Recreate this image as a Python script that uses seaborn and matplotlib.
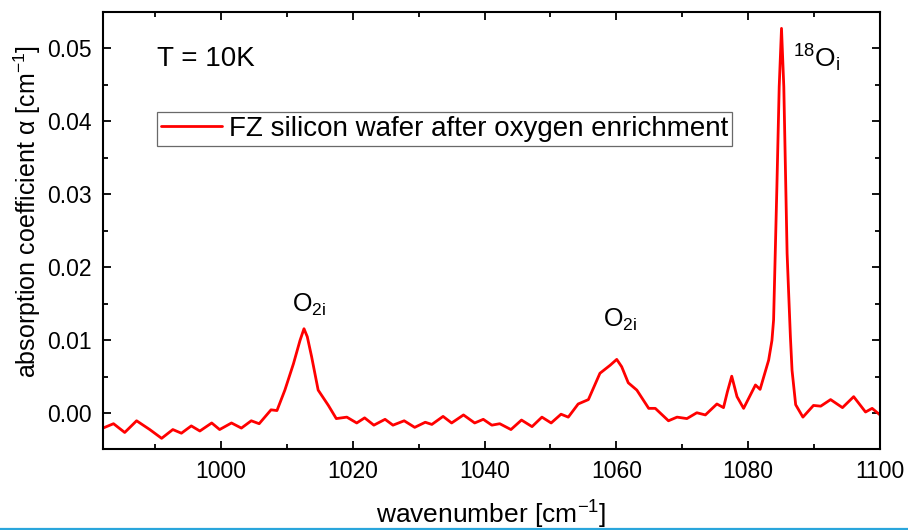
import matplotlib
matplotlib.use("Agg")
import matplotlib.pyplot as plt
from matplotlib.lines import Line2D
from matplotlib.ticker import MultipleLocator
import seaborn as sns
import pandas as pd

# Low-temperature FTIR absorption spectrum (wavenumber in cm^-1, alpha in cm^-1)
wavenumber = [
    982.1, 983.7, 985.4, 987.2, 989.2, 991.0, 992.7, 994.0, 995.5, 996.8,
    998.6, 999.8, 1001.6, 1003.1, 1004.6, 1005.8, 1007.6, 1008.5, 1009.7, 1011.0,
    1012.0, 1012.6, 1013.1, 1013.75, 1014.75, 1016.3, 1017.5, 1019.1, 1020.6, 1021.8,
    1023.2, 1024.9, 1026.1, 1027.8, 1029.4, 1031.0, 1032.0, 1033.7, 1035.0, 1036.8,
    1038.5, 1039.8, 1041.1, 1042.3, 1044.0, 1045.6, 1047.2, 1048.7, 1050.1, 1051.6,
    1052.7, 1054.2, 1055.75, 1057.5, 1059.05, 1060.05, 1060.8, 1061.8, 1063.1, 1064.9,
    1065.9, 1067.9, 1069.2, 1070.7, 1072.2, 1073.5, 1075.25, 1076.25, 1076.85, 1077.5,
    1078.3, 1079.3, 1081.1, 1081.8, 1083.1, 1083.6, 1083.85, 1084.1, 1084.35, 1084.7,
    1085.05, 1085.4, 1085.6, 1085.9, 1086.1, 1086.4, 1086.65, 1087.2, 1088.3, 1089.9,
    1091.0, 1092.5, 1094.3, 1096.0, 1097.8, 1098.8, 1100.0,
]
alpha = [
    -0.0020, -0.0014, -0.0026, -0.0010, -0.0022, -0.0034, -0.0022, -0.0027, -0.0017, -0.0024,
    -0.0013, -0.0022, -0.0013, -0.0020, -0.0010, -0.0014, 0.0005, 0.0004, 0.0032, 0.0068,
    0.0100, 0.0116, 0.0105, 0.0078, 0.0032, 0.0011, -0.0007, -0.0005, -0.0013, -0.0006,
    -0.0016, -0.0008, -0.0016, -0.0010, -0.0019, -0.0012, -0.0015, -0.0004, -0.0013, -0.0002,
    -0.0013, -0.0008, -0.0016, -0.0014, -0.0022, -0.0009, -0.0018, -0.0005, -0.0013, -0.0001,
    -0.0005, 0.0013, 0.0019, 0.0055, 0.0066, 0.0074, 0.0064, 0.0042, 0.0032, 0.0007,
    0.0007, -0.0010, -0.0005, -0.0007, 0.0001, -0.0002, 0.0013, 0.0008, 0.0030, 0.0051,
    0.0023, 0.0007, 0.0039, 0.0033, 0.0073, 0.0100, 0.0128, 0.0219, 0.0310, 0.0447,
    0.0527, 0.0447, 0.0356, 0.0219, 0.0173, 0.0105, 0.0059, 0.0012, -0.0005, 0.0011,
    0.0010, 0.0019, 0.0008, 0.0023, 0.0002, 0.0007, -0.0002,
]
series_label = "FZ silicon wafer after oxygen enrichment"
x_ticks = [1000, 1020, 1040, 1060, 1080, 1100]
y_ticks = [0.00, 0.01, 0.02, 0.03, 0.04, 0.05]

df = pd.DataFrame({"wavenumber": wavenumber, "alpha": alpha})

sns.set_theme(style="ticks")
plt.rcParams["font.family"] = ["Liberation Sans", "DejaVu Sans"]
plt.rcParams["mathtext.fontset"] = "custom"
plt.rcParams["mathtext.rm"] = "Liberation Sans"
plt.rcParams["mathtext.it"] = "Liberation Sans:italic"
plt.rcParams["mathtext.default"] = "regular"
plt.rcParams["text.color"] = "black"
plt.rcParams["axes.labelcolor"] = "black"
plt.rcParams["legend.labelcolor"] = "black"

fig = plt.figure(figsize=(9.08, 5.30), dpi=100)
ax = fig.add_axes([0.1134, 0.1523, 0.9692 - 0.1134, 0.9768 - 0.1523])

sns.lineplot(data=df, x="wavenumber", y="alpha", ax=ax, color="#ff0000",
             linewidth=2.0, label=series_label, sort=False)
for ln in ax.get_lines():
    ln.set_solid_joinstyle("round")

ax.set_xlim(982.1, 1100)
ax.set_ylim(-0.0049, 0.0549)
ax.set_xticks(x_ticks)
ax.set_yticks(y_ticks)
ax.set_xticklabels([str(t) for t in x_ticks])
ax.set_yticklabels([f"{t:.2f}" for t in y_ticks])
ax.xaxis.set_minor_locator(MultipleLocator(10))
ax.yaxis.set_minor_locator(MultipleLocator(0.005))
ax.tick_params(which="both", direction="in", top=True, right=True,
               labelsize=16.5, colors="black", labelcolor="black", width=1.3)
ax.tick_params(which="major", length=6, pad=8)
ax.tick_params(which="minor", length=3.5)
for sp in ax.spines.values():
    sp.set_visible(True)
    sp.set_linewidth(1.5)
    sp.set_color("black")

ax.set_xlabel("wavenumber [cm$^{-1}$]", fontsize=19, color="black")
ax.xaxis.set_label_coords(0.5, -0.113)
ax.set_ylabel("absorption coefficient \u03b1 [cm$^{-1}$]", fontsize=18, color="black")
ax.yaxis.set_label_coords(-0.077, 0.545)

leg = ax.legend(loc="upper left", bbox_to_anchor=(0.069, 0.772), fontsize=20,
                frameon=True, fancybox=False, borderpad=0.15, handlelength=2.2,
                handletextpad=0.25, borderaxespad=0)
leg.get_frame().set_edgecolor("#444444")
leg.get_frame().set_linewidth(0.9)
for t in leg.get_texts():
    t.set_color("black")

ax.text(990.25, 0.0475, "T = 10K", fontsize=20, va="baseline", ha="left", color="black")
ax.text(1013.3, 0.0139, r"O$_{\mathrm{2i}}$", fontsize=18, ha="center", va="baseline",
        color="black")
ax.text(1060.5, 0.0119, r"O$_{\mathrm{2i}}$", fontsize=18, ha="center", va="baseline",
        color="black")
ax.text(1090.3, 0.0473, r"$^{18}$O$_{\mathrm{i}}$", fontsize=19, ha="center", va="baseline",
        color="black")

# thin accent rule along the bottom edge of the figure
fig.add_artist(Line2D([0, 1], [1 - 528.5 / 530] * 2, transform=fig.transFigure,
                      color="#2aa6dc", linewidth=1.6))

fig.savefig("out.png", dpi=100)
